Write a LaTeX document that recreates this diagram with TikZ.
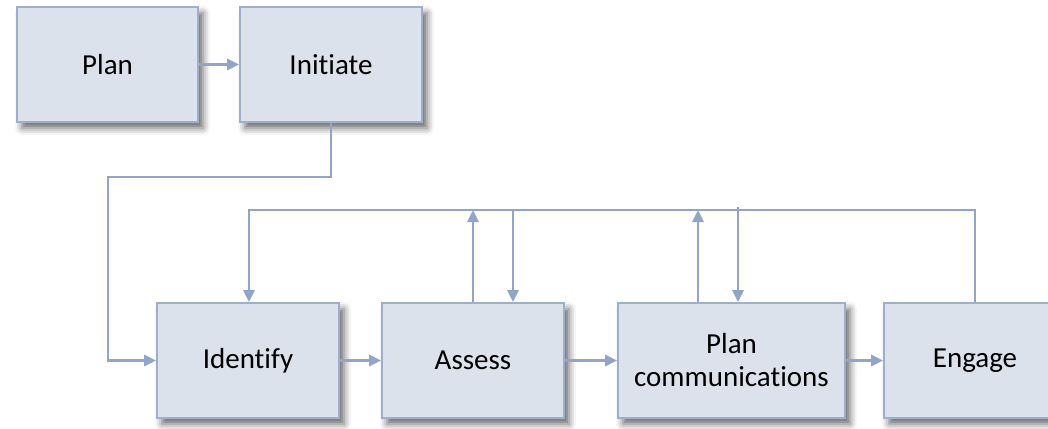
\documentclass[tikz,border=0pt]{standalone}
\usepackage{fontspec}
\setmainfont[Ligatures=NoCommon]{Carlito}
\usetikzlibrary{shadows.blur,arrows.meta}
\definecolor{boxfill}{HTML}{DCE2EC}
\definecolor{boxline}{HTML}{9EAFCB}
\definecolor{conn}{HTML}{8FA6C8}
\tikzset{
  stepbox/.style={draw=boxline, line width=1.6pt, fill=boxfill, minimum height=115pt,
    inner sep=0pt, align=center, font=\fontsize{29}{33}\selectfont,
    blur shadow={shadow xshift=5pt, shadow yshift=-6pt, shadow blur radius=7pt, shadow opacity=60}},
  link/.style={draw=conn, line width=2.8pt, -{Triangle[length=12pt,width=11pt]}},
}
\begin{document}
\begin{tikzpicture}[x=1pt,y=-1pt]
\clip (0,0) rectangle (1048,428);
\useasboundingbox (0,0) rectangle (1048,428);
\node[stepbox, minimum width=181pt] (plan) at (107.5,64.5) {Plan};
\node[stepbox, minimum width=182pt] (init) at (331,64.5) {Initiate};
\node[stepbox, minimum width=182pt] (ident) at (248,360.5) {Identify};
\node[stepbox, minimum width=182pt] (assess) at (473,360.5) {Assess};
\node[stepbox, minimum width=227pt] (pcomm) at (731.5,360.5) {Plan\\communications};
\node[stepbox, minimum width=182pt] (engage) at (975,360.5) {Engage};
\coordinate (top) at (0,210);
\coordinate (bend) at (108,177);
\draw[link] (plan) -- (init);
\draw[link] (init.south) |- (bend) |- (ident.west);
\draw[link] (ident) -- (assess);
\draw[link] (assess) -- (pcomm);
\draw[link] (pcomm) -- (engage);
\draw[link] (engage.north) -- (engage.north |- top) -- ([xshift=1pt]ident.north |- top) -- ([xshift=1pt]ident.north);
\draw[link] (assess.north) -- (assess.north |- top);
\draw[link] ([xshift=40pt]assess.north |- top) -- ([xshift=40pt]assess.north);
\draw[link] ([xshift=-33.5pt]pcomm.north) -- ([xshift=-33.5pt]pcomm.north |- top);
\draw[link] ([xshift=6.5pt,yshift=3pt]pcomm.north |- top) -- ([xshift=6.5pt]pcomm.north);
\end{tikzpicture}
\end{document}
